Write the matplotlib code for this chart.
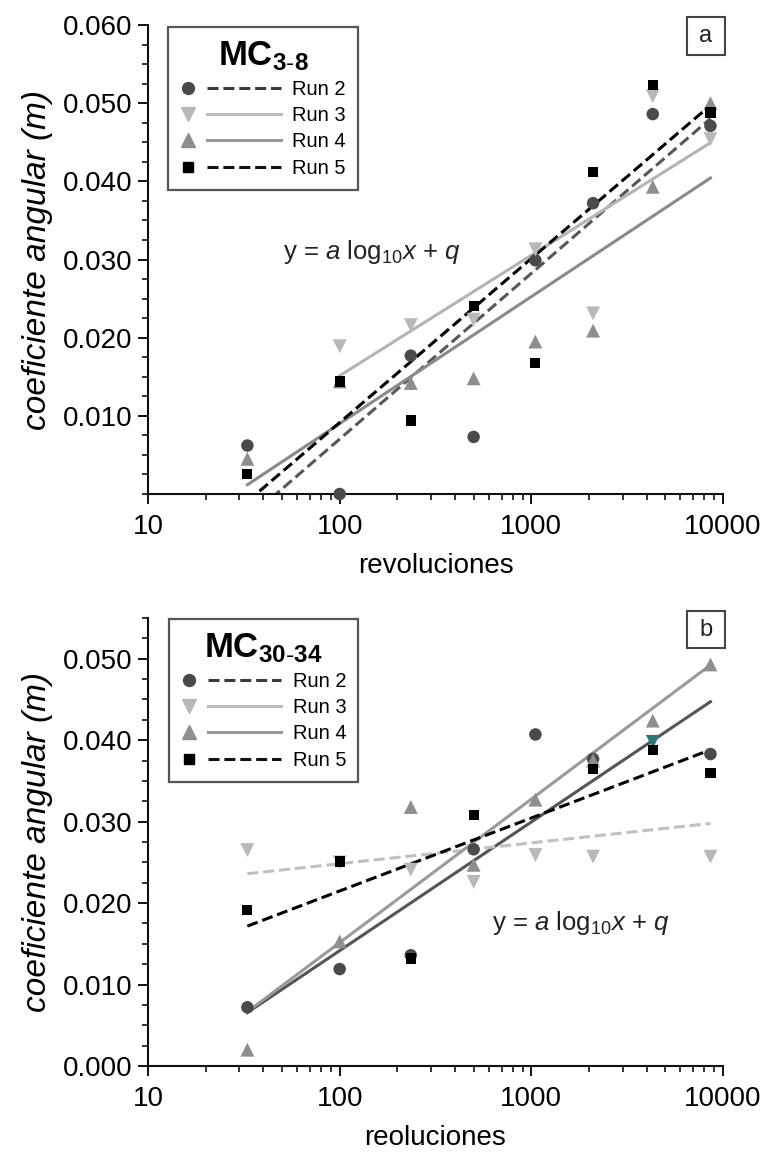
import numpy as np
import matplotlib
matplotlib.use("Agg")
import matplotlib.pyplot as plt
from matplotlib.lines import Line2D
from matplotlib.legend_handler import HandlerBase
from matplotlib.patches import Rectangle
from matplotlib.ticker import MultipleLocator, LogLocator, NullFormatter, FixedLocator, FixedFormatter

plt.rcParams['font.family'] = ['Liberation Sans', 'DejaVu Sans']
plt.rcParams['mathtext.fontset'] = 'custom'
plt.rcParams['mathtext.rm'] = 'Liberation Sans'
plt.rcParams['mathtext.it'] = 'Liberation Sans:italic'
plt.rcParams['mathtext.bf'] = 'Liberation Sans:bold'

# ---------------- data ----------------
revs = [33, 100, 235, 500, 1050, 2100, 4300, 8600]
run_labels = ["Run 2", "Run 3", "Run 4", "Run 5"]

# panel a : MC 3-8
a_run2 = [0.0062, 0.0000, 0.0177, 0.0073, 0.0299, 0.0372, 0.0486, 0.0471]
a_run3 = [np.nan, 0.0189, 0.0216, 0.0223, 0.0313, 0.0231, 0.0509, 0.0454]
a_run4 = [0.0045, 0.0144, 0.0142, 0.0148, 0.0195, 0.0209, 0.0393, 0.0500]
a_run5 = [0.0026, 0.0144, 0.0094, 0.0240, 0.0168, 0.0412, 0.0523, 0.0488]

# panel b : MC 30-34
b_run2 = [0.0072, 0.0119, 0.0136, 0.0266, 0.0407, 0.0377, np.nan, 0.0383]
b_run3 = [0.0265, 0.0250, 0.0241, 0.0226, 0.0259, 0.0257, 0.0398, 0.0257]
b_run4 = [0.0020, 0.0153, 0.0318, 0.0247, 0.0327, 0.0375, 0.0424, 0.0493]
b_run5 = [0.0191, 0.0251, 0.0132, 0.0308, np.nan, 0.0365, 0.0388, 0.0360]

x_ticks = [10, 100, 1000, 10000]
x_ticklabels = ["10", "100", "1000", "10000"]
a_yticks = [0.010, 0.020, 0.030, 0.040, 0.050, 0.060]
b_yticks = [0.000, 0.010, 0.020, 0.030, 0.040, 0.050]

# ---------------- styles ----------------
mk_style = {
    "Run 2": dict(marker="o", s=9.0 ** 2, color="#4a4a4a"),
    "Run 3": dict(marker="v", s=10.0 ** 2, color="#b8b8b8"),
    "Run 4": dict(marker="^", s=10.0 ** 2, color="#8e8e8e"),
    "Run 5": dict(marker="s", s=7.3 ** 2, color="#000000"),
}
DASH = (0, (3.6, 1.6))
line_a = {
    "Run 2": dict(color="#575757", ls=DASH),
    "Run 3": dict(color="#b4b4b4", ls="-"),
    "Run 4": dict(color="#8a8a8a", ls="-"),
    "Run 5": dict(color="#000000", ls=DASH),
}
line_b = {
    "Run 2": dict(color="#555555", ls="-"),
    "Run 3": dict(color="#c0c0c0", ls=DASH),
    "Run 4": dict(color="#9a9a9a", ls="-"),
    "Run 5": dict(color="#000000", ls=DASH),
}
legend_lines = {
    "Run 2": dict(color="#3a3a3a", ls=DASH),
    "Run 3": dict(color="#bcbcbc", ls="-"),
    "Run 4": dict(color="#9a9a9a", ls="-"),
    "Run 5": dict(color="#111111", ls=DASH),
}

FS_TICK = 20
FS_XLAB = 20
FS_YLAB = 24


class MarkerThenLine(HandlerBase):
    def create_artists(self, legend, orig_handle, xdescent, ydescent,
                       width, height, fontsize, trans):
        y = height / 2.0 - ydescent
        x0 = -xdescent
        m = Line2D([x0 + 0.08 * width], [y])
        m.update_from(orig_handle)
        m.set_linestyle("None")
        ln = Line2D([x0 + 0.27 * width, x0 + width], [y, y])
        ln.update_from(orig_handle)
        ln.set_marker("None")
        for art in (m, ln):
            art.set_transform(trans)
        return [m, ln]


def make_legend(ax, title, anchor):
    handles = []
    for lab in run_labels:
        st = mk_style[lab]
        ls = legend_lines[lab]
        h = Line2D([], [], color=ls["color"], linestyle=ls["ls"], lw=2.2,
                   marker=st["marker"], markersize=np.sqrt(st["s"]) * 0.95,
                   markerfacecolor=st["color"], markeredgecolor=st["color"])
        handles.append(h)
    leg = ax.legend(handles, run_labels, loc="upper left", bbox_to_anchor=anchor,
                    borderaxespad=0, frameon=True, fancybox=False, framealpha=1,
                    edgecolor="#555555", fontsize=14.5, title=title,
                    title_fontsize=25, handlelength=5.0, handletextpad=0.55,
                    labelspacing=0.36, borderpad=0.6,
                    handler_map={Line2D: MarkerThenLine()})
    leg.get_frame().set_linewidth(1.6)
    return leg


def draw_panel(ax, series, lines, ylim, yticks, title, letter, eq_pos, xlabel,
               leg_anchor, letter_box, run3_colors=None):
    ax.set_xscale("log")
    ax.set_xlim(10, 10000)
    ax.set_ylim(*ylim)
    x = np.array(revs, dtype=float)
    for lab, yv in zip(run_labels, series):
        y = np.array(yv, dtype=float)
        msk = ~np.isnan(y)
        # least-squares fit y = a log10 x + q
        a, q = np.polyfit(np.log10(x[msk]), y[msk], 1)
        xx = np.array([x[msk].min(), x[msk].max()])
        ls = lines[lab]
        ax.plot(xx, a * np.log10(xx) + q, color=ls["color"], linestyle=ls["ls"],
                lw=2.2, zorder=2)
    for lab, yv in zip(run_labels, series):
        y = np.array(yv, dtype=float)
        msk = ~np.isnan(y)
        st = mk_style[lab]
        col = st["color"]
        if lab == "Run 3" and run3_colors is not None:
            col = [c for c, mm in zip(run3_colors, msk) if mm]
        ax.scatter(x[msk], y[msk], marker=st["marker"], s=st["s"], c=col,
                   edgecolors="none", zorder=3, clip_on=False)

    for side in ("top", "right"):
        ax.spines[side].set_visible(False)
    for side in ("left", "bottom"):
        ax.spines[side].set_linewidth(1.5)
        ax.spines[side].set_color("#111111")

    ax.xaxis.set_major_locator(FixedLocator(x_ticks))
    ax.xaxis.set_major_formatter(FixedFormatter(x_ticklabels))
    ax.xaxis.set_minor_locator(LogLocator(base=10, subs=np.arange(2, 10)))
    ax.xaxis.set_minor_formatter(NullFormatter())
    ax.yaxis.set_major_locator(FixedLocator(yticks))
    ax.yaxis.set_major_formatter(FixedFormatter(["%.3f" % v for v in yticks]))
    ax.yaxis.set_minor_locator(MultipleLocator(0.0025))
    ax.tick_params(which="major", direction="out", length=7, width=1.4,
                   labelsize=FS_TICK, color="#111111")
    ax.tick_params(axis="y", which="major", pad=4)
    ax.tick_params(axis="x", which="major", pad=7.5)
    ax.tick_params(which="minor", direction="out", length=4.5, width=1.2,
                   color="#111111")

    ax.set_ylabel("coeficiente angular (m)", fontsize=FS_YLAB, style="italic",
                  labelpad=7)
    ax.set_xlabel(xlabel, fontsize=FS_XLAB, labelpad=9)

    ax.text(eq_pos[0], eq_pos[1],
            r"y = $\mathit{a}$ $\mathregular{log_{10}}$$\mathit{x}$ + $\mathit{q}$",
            transform=ax.transAxes, fontsize=18.5, ha="left", va="center",
            color="#222222")

    make_legend(ax, title, leg_anchor)

    bx, by, bw, bh = letter_box
    ax.add_patch(Rectangle((bx, by), bw, bh, transform=ax.transAxes, fill=False,
                           ec="#444444", lw=1.5, clip_on=False, zorder=5))
    ax.text(bx + bw / 2, by + bh / 2, letter, transform=ax.transAxes,
            fontsize=17, ha="center", va="center", color="#222222")


W, H = 784, 1156
fig = plt.figure(figsize=(W / 100, H / 100), dpi=100)
axA = fig.add_axes([148 / W, 1 - 494 / H, 575 / W, 469 / H])
axB = fig.add_axes([148 / W, 1 - 1066 / H, 575 / W, 448 / H])

draw_panel(axA, [a_run2, a_run3, a_run4, a_run5], line_a, (0, 0.060), a_yticks,
           r"$\mathbf{MC}_{\mathbf{3}\text{-}\mathbf{8}}$", "a", (0.235, 0.516),
           "revoluciones", (0.035, 0.996), (0.9374, 0.936, 0.0661, 0.081))

run3_b_colors = ["#b8b8b8"] * 6 + ["#2e7878"] + ["#b8b8b8"]
draw_panel(axB, [b_run2, b_run3, b_run4, b_run5], line_b, (0, 0.055), b_yticks,
           r"$\mathbf{MC}_{\mathbf{30}\text{-}\mathbf{34}}$", "b", (0.598, 0.319),
           "reoluciones", (0.036, 0.998), (0.9374, 0.933, 0.0661, 0.0826),
           run3_colors=run3_b_colors)

fig.savefig("out.png", dpi=100)
